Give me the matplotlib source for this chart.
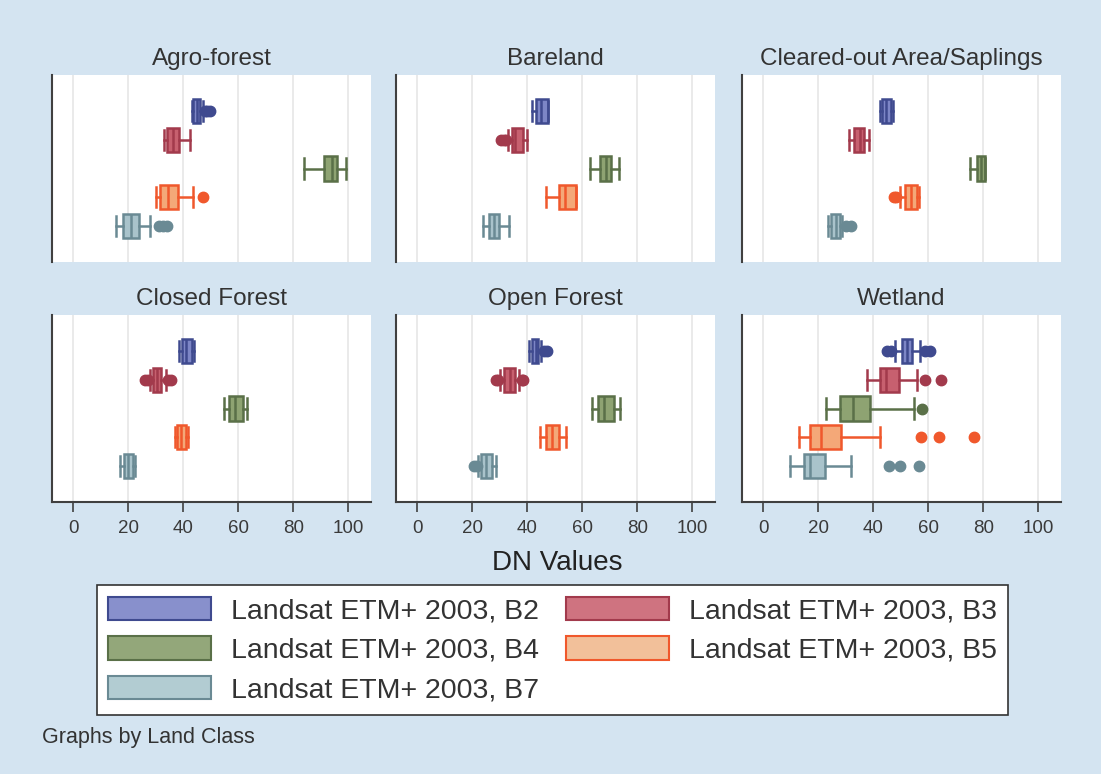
import matplotlib
matplotlib.use("Agg")
import matplotlib.pyplot as plt
from matplotlib.patches import Patch

plt.rcParams['font.family'] = ['Liberation Sans', 'DejaVu Sans']

classes = ["Agro-forest", "Bareland", "Cleared-out Area/Saplings",
           "Closed Forest", "Open Forest", "Wetland"]
bands = ["Landsat ETM+ 2003, B2", "Landsat ETM+ 2003, B3", "Landsat ETM+ 2003, B4",
         "Landsat ETM+ 2003, B5", "Landsat ETM+ 2003, B7"]

# box statistics per class (rows) and band (B2, B3, B4, B5, B7)
whislo = [[43.0, 32.8, 84.0, 30.0, 15.5],
          [41.7, 33.0, 62.8, 46.8, 23.8],
          [42.5, 31.0, 75.0, 49.8, 23.4],
          [38.5, 28.0, 54.6, 37.0, 17.0],
          [40.5, 30.0, 63.6, 44.6, 22.2],
          [48.0, 37.7, 22.9, 12.8, 9.8]]
q1 = [[43.5, 34.0, 91.0, 31.5, 18.0],
      [43.2, 34.2, 66.2, 51.4, 26.2],
      [43.0, 32.8, 77.5, 51.6, 24.4],
      [39.5, 29.0, 56.5, 37.5, 18.5],
      [41.5, 31.5, 65.5, 46.8, 23.0],
      [50.4, 42.5, 27.8, 16.8, 14.9]]
med = [[45.0, 36.2, 94.0, 34.5, 21.0],
       [45.0, 35.6, 68.4, 53.8, 28.0],
       [44.5, 35.0, 79.2, 53.5, 26.2],
       [41.0, 30.5, 58.7, 39.0, 20.0],
       [43.0, 33.5, 68.0, 49.0, 24.9],
       [52.2, 44.4, 32.6, 21.0, 17.1]]
q3 = [[46.0, 38.4, 96.0, 38.0, 24.0],
      [47.4, 38.4, 70.4, 57.5, 29.8],
      [46.5, 36.5, 80.7, 55.9, 28.0],
      [43.0, 32.0, 61.5, 41.0, 21.5],
      [44.0, 35.5, 71.5, 51.6, 27.0],
      [54.1, 49.2, 38.9, 28.2, 22.2]]
whishi = [[47.0, 42.5, 99.0, 43.5, 28.0],
          [47.4, 39.9, 73.2, 57.5, 33.2],
          [47.0, 38.3, 80.7, 56.5, 28.5],
          [44.0, 33.5, 63.1, 41.5, 22.5],
          [45.0, 37.0, 73.8, 54.0, 28.5],
          [57.1, 55.9, 54.9, 42.3, 31.9]]
fliers = [[[47.8, 48.7, 49.5], [], [], [47.0], [31.0, 32.5, 34.0]],
          [[], [30.5, 31.5, 32.2], [], [], []],
          [[], [], [], [47.4, 48.3], [30.0, 31.7]],
          [[], [26.0, 27.0, 34.5, 35.5], [], [], []],
          [[46.0, 47.0], [28.5, 29.2, 38.0, 38.5], [], [], [20.5, 21.5]],
          [[45.0, 46.2, 58.9, 60.7], [58.9, 64.7], [57.7],
           [57.3, 63.8, 76.5], [45.6, 49.8, 56.5]]]

edge_colors = ["#3f4a8f", "#a23a4c", "#5a7048", "#f0582c", "#6a8a94"]
fill_colors = ["#7d86c6", "#c7606f", "#8ea372", "#f4a878", "#a9c3cb"]
legend_fills = ["#8890cc", "#cf7380", "#93a77a", "#f2c09a", "#b2ccd2"]

W, H = 1101, 774
fig = plt.figure(figsize=(W / 100, H / 100), dpi=100)
bg = "#d4e4f1"
fig.patch.set_facecolor(bg)

lefts = [52, 396, 742]
tops = [75, 315]
pw, ph = 319, 187

for i, cls in enumerate(classes):
    row, col = divmod(i, 3)
    l, t = lefts[col], tops[row]
    ax = fig.add_axes([l / W, 1 - (t + ph) / H, pw / W, ph / H])
    ax.set_facecolor("white")
    for j in range(5):
        st = [dict(whislo=whislo[i][j], q1=q1[i][j], med=med[i][j],
                   q3=q3[i][j], whishi=whishi[i][j], fliers=fliers[i][j])]
        ec = edge_colors[j]
        ax.bxp(st, positions=[j + 1], widths=0.85, orientation='horizontal',
               patch_artist=True, capwidths=0.7,
               boxprops=dict(facecolor=fill_colors[j], edgecolor=ec, linewidth=1.8),
               medianprops=dict(color=ec, linewidth=1.8),
               whiskerprops=dict(color=ec, linewidth=1.8),
               capprops=dict(color=ec, linewidth=1.8),
               flierprops=dict(marker='o', markerfacecolor=ec, markeredgecolor=ec,
                               markersize=7.5))
    ax.set_xlim(-7.8, 108.2)
    ax.set_ylim(6.27, -0.27)
    ax.set_xticks([0, 20, 40, 60, 80, 100])
    ax.set_yticks([])
    ax.grid(axis='x', color='#e6e6e6', linewidth=1.2)
    ax.set_axisbelow(True)
    for s in ['top', 'right']:
        ax.spines[s].set_visible(False)
    ax.spines['left'].set_color('#404040')
    ax.spines['left'].set_linewidth(1.5)
    if row == 0:
        ax.spines['bottom'].set_visible(False)
        ax.tick_params(axis='x', bottom=False, labelbottom=False)
    else:
        ax.spines['bottom'].set_color('#404040')
        ax.spines['bottom'].set_linewidth(1.5)
        ax.tick_params(axis='x', length=7, width=1.2, color='#404040',
                       labelsize=13.5, labelcolor='#3a3a3a', pad=6)
    ax.set_title(cls, fontsize=17.5, color='#333333', pad=7)

fig.text(557 / W, 1 - 563 / H, "DN Values", fontsize=20, color='#222222',
         ha='center', va='center')

order = [0, 2, 4, 1, 3]
handles = [Patch(facecolor=legend_fills[k], edgecolor=edge_colors[k], linewidth=1.5,
                 label=bands[k]) for k in order]
leg = fig.legend(handles=handles, ncol=2, loc='center', mode='expand',
                 bbox_to_anchor=(97 / W, 1 - 712 / H, 911 / W, 124 / H),
                 borderaxespad=0, fontsize=20.5, handlelength=3.6,
                 handleheight=0.9, handletextpad=0.7, labelspacing=0.42,
                 borderpad=0.4, fancybox=False, frameon=True, framealpha=1,
                 facecolor='white', labelcolor='#333333')
leg.get_frame().set_edgecolor('#333333')
leg.get_frame().set_linewidth(1.2)

fig.text(42 / W, 1 - 738 / H, "Graphs by Land Class", fontsize=15.5, color='#333333',
         ha='left', va='center')

fig.savefig("out.png", dpi=100, facecolor=fig.get_facecolor())
